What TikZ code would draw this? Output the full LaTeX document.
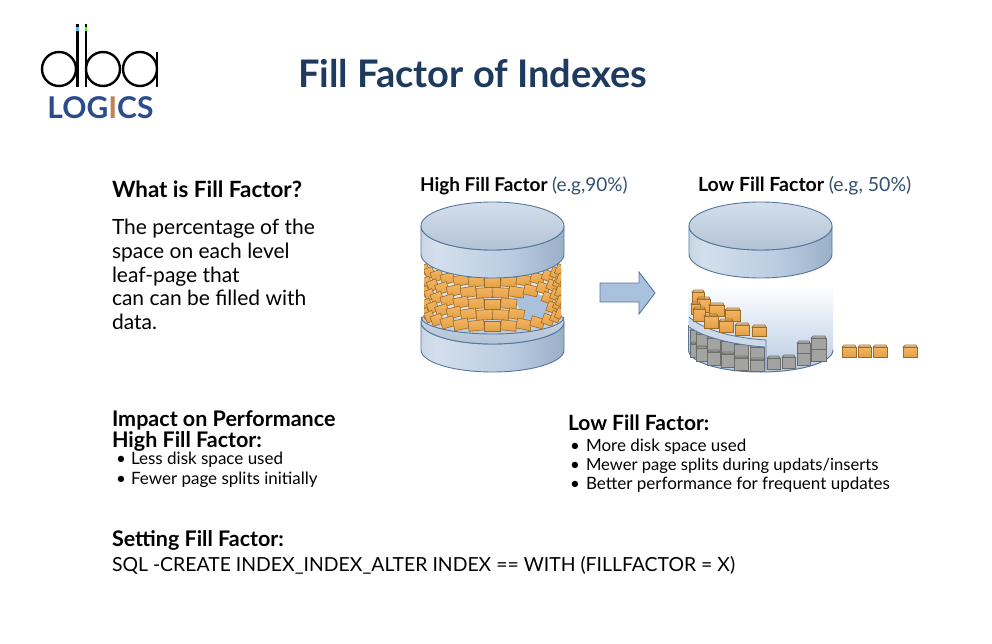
\documentclass[tikz,border=0pt]{standalone}
\usepackage{fontspec}
\setmainfont{Lato}
\definecolor{titlenavy}{HTML}{1F3A5F}
\definecolor{notenavy}{HTML}{34506F}
\definecolor{logoblue}{HTML}{2B4C8C}
\definecolor{logoorange}{HTML}{C08358}
\definecolor{diskline}{HTML}{55779C}
\definecolor{disktop}{HTML}{BCCDE1}
\definecolor{disklip}{HTML}{D3DFEC}
\definecolor{brickfill}{HTML}{F0A848}
\definecolor{brickline}{HTML}{9A6C28}
\definecolor{blockfill}{HTML}{A3A3A1}
\definecolor{blockline}{HTML}{6C6C6A}
\definecolor{holeblue}{HTML}{A9C1DD}
\definecolor{wallback}{HTML}{DDE2E6}
\pgfdeclarehorizontalshading{diskside}{100bp}{color(0bp)=(holeblue!85!black); color(30bp)=(disklip); color(55bp)=(disktop); color(100bp)=(diskline!85)}
\tikzset{
    plaintext/.style={anchor=west, inner sep=0pt, outer sep=0pt, black},
    headtext/.style={plaintext, font=\fontsize{21.5}{24}\selectfont\bfseries},
    bodytext/.style={plaintext, font=\fontsize{17}{20}\selectfont},
    bulletdot/.style={plaintext, font=\fontsize{17}{20}\selectfont},
    sideface/.style={draw=diskline, line width=0.9pt, shading=diskside},
    topface/.style={draw=diskline, line width=0.9pt, top color=disktop!65!white, bottom color=disktop!95!black},
    brickface/.style={draw=brickline, line width=0.6pt, top color=brickfill!85!white, bottom color=brickfill!95!black},
    blockface/.style={draw=blockline, line width=0.6pt, fill=blockfill},
    logoring/.style={draw=black, line width=2.4pt},
}
\newcommand{\drawdisk}[4]{
    \draw[sideface] ({#1-71.5},-#2) -- ({#1-71.5},-#3)
        arc[start angle=180, end angle=360, x radius=71.5, y radius=#4]
        -- ({#1+71.5},-#2)
        arc[start angle=0, end angle=-180, x radius=71.5, y radius=#4] -- cycle;
    \draw[topface] (#1,-#2) ellipse[x radius=71.5, y radius=#4];
}
\newcommand{\drawbrick}[2]{
    \pgfmathsetmacro{\bx}{492.5+67*sin(#1)}
    \pgfmathsetmacro{\by}{#2+14*cos(#1)}
    \pgfmathsetmacro{\bw}{5.5*cos(#1)+2.5}
    \pgfmathsetmacro{\brot}{-24*sin(#1)}
    \pgfmathtruncatemacro{\inhole}{(\bx>511)&&(\bx<546)&&(\by>295)&&(\by<313)}
    \ifnum\inhole=0
        \draw[brickface, shift={(\bx,-\by)}, rotate=\brot] (-\bw,-5) rectangle (\bw,5);
    \fi
}
\newcommand{\drawblock}[5]{
    \draw[#1] (#2,-#3) rectangle ({#2+#4},{-#3-#5});
    \draw[#1, fill opacity=0.55] (#2,-#3) -- ({#2+2},{-#3+2}) -- ({#2+#4-1},{-#3+2}) -- ({#2+#4},-#3) -- cycle;
}
\begin{document}
\begin{tikzpicture}[x=1pt, y=1pt]
    \useasboundingbox (0,-644) rectangle (992,0);

    \draw[logoring] (59,-69) circle (17);
    \draw[logoring] (103,-69) circle (17);
    \draw[logoring] (140,-69) circle (17);
    \draw[logoring] (77.5,-24) -- (77.5,-87);
    \draw[logoring] (86,-24) -- (86,-87);
    \draw[logoring] (157,-52) -- (157,-87);
    \draw[cyan!70!white, line width=2.4pt] (77.5,-27) -- (77.5,-31);
    \draw[green!70!yellow, line width=2.4pt] (86,-27) -- (86,-31);
    \node (logoword) at (100.5,-108) {\fontsize{30}{32}\selectfont\bfseries\color{logoblue}LOG\textcolor{logoorange}{I}CS};

    \node[plaintext, text=titlenavy, font=\fontsize{38}{40}\selectfont\bfseries] (title) at (298,-74) {Fill Factor of Indexes};

    \node[headtext, font=\fontsize{22.4}{24}\selectfont\bfseries] (whatis) at (112,-189) {What is Fill Factor?};
    \node[plaintext, align=left, font=\fontsize{21}{23.7}\selectfont] (whatbody) at (112,-274.5) {The percentage of the\\space on each level\\leaf-page that\\can can be filled with\\data.};

    \node[plaintext, font=\fontsize{19}{22}\selectfont\bfseries] (highhead) at (420,-186) {High Fill Factor \textmd{\textcolor{notenavy}{(e.g,90\%)}}};
    \node[plaintext, font=\fontsize{19.5}{22}\selectfont\bfseries] (lowhead) at (698,-186) {Low Fill Factor \textmd{\textcolor{notenavy}{(e.g, 50\%)}}};

    \drawdisk{492.5}{322}{350}{22}
    \draw[diskline, line width=0.9pt] (421,-317) arc[start angle=180, end angle=360, x radius=71.5, y radius=17];
    \fill[wallback] (425,-262) rectangle (560,-318);
    \fill[holeblue] (513,-297) .. controls (522,-291) and (538,-290) .. (548,-297) -- (550,-318) -- (526,-320) -- cycle;
    \fill[white] (540,-288) -- (547,-290) -- (546,-297) -- (538,-294) -- cycle;
    \begin{scope}
        \clip (424,-255) rectangle (561,-345);
        \foreach \rowy/\skew in {268/0, 279/7, 290/0, 301/7, 312/0}{
            \foreach \step in {-6,...,6}{
                \pgfmathsetmacro{\brickang}{\step*14+\skew}
                \drawbrick{\brickang}{\rowy}
            }
        }
    \end{scope}
    \drawdisk{492.5}{226}{254}{24}

    \fill[holeblue] (600,-283) -- (639,-283) -- (639,-272) -- (655,-293) -- (639,-314) -- (639,-302) -- (600,-302) -- cycle;
    \draw[diskline, line width=0.9pt] (600,-283) -- (639,-283) -- (639,-272) -- (655,-293) -- (639,-314) -- (639,-302) -- (600,-302) -- cycle;

    \shade[top color=white, bottom color=holeblue!85!white] (688.5,-285) -- (833,-285) -- (833,-350)
        arc[start angle=0, end angle=-180, x radius=72.25, y radius=22] -- cycle;
    \draw[diskline, line width=1pt] (688.5,-325) -- (688.5,-350) arc[start angle=180, end angle=360, x radius=72.25, y radius=22];
    \drawdisk{760.5}{226}{254}{24}

    \foreach \bkx/\bky/\bkw/\bkh in {690/330/6/13, 696/334/11/12, 707/338/13/13, 721/341/13/12, 734/344/14/13, 750/347/14/12,
        690/344/6/13, 696/348/11/13, 707/352/13/13, 721/354/13/13, 734/358/14/12, 750/360/14/11,
        767/358/13/11, 782/357/13/11, 797/353/13/12, 811/349/15/12, 797/343/13/10, 811/338/15/11}{
        \drawblock{blockface}{\bkx}{\bky}{\bkw}{\bkh}
    }
    \fill[disklip!80!holeblue] (689,-317) .. controls (705,-331) and (735,-338) .. (766,-340) -- (766,-347) .. controls (735,-345) and (705,-338) .. (689,-327) -- cycle;
    \draw[diskline, line width=0.8pt] (689,-317) .. controls (705,-331) and (735,-338) .. (766,-340) -- (766,-370);
    \draw[diskline, line width=0.8pt] (689,-327) .. controls (705,-338) and (735,-345) .. (765,-347);

    \foreach \bkx/\bky/\bkw/\bkh in {692/292/12/12, 697/299/13/13, 709/305/15/11, 725/310/15/11,
        691/304/9/10, 693/309/12/12, 704/316/14/12, 719/321/14/11, 735/325/14/10, 752/327/14/9,
        842/347/14/10, 858/347/13/10, 873/347/14/10, 903/347/14/10}{
        \drawblock{brickface}{\bkx}{\bky}{\bkw}{\bkh}
    }

    \node[headtext] (impact) at (112,-420) {Impact on Performance};
    \node[headtext] (highfill) at (112,-441) {High Fill Factor:};
    \node[bulletdot] (dota) at (116,-460) {•};
    \node[bodytext] (lessdisk) at (131,-460) {Less disk space used};
    \node[bulletdot] (dotb) at (116,-480) {•};
    \node[bodytext] (fewer) at (131,-480) {Fewer page splits initially};

    \node[headtext, font=\fontsize{21}{24}\selectfont\bfseries] (lowfill) at (568,-423) {Low Fill Factor:};
    \node[bulletdot] (dotc) at (570,-447) {•};
    \node[bodytext] (moredisk) at (586,-447) {More disk space used};
    \node[bulletdot] (dotd) at (570,-466) {•};
    \node[bodytext, font=\fontsize{16.6}{20}\selectfont] (mewer) at (586,-466) {Mewer page splits during updats/inserts};
    \node[bulletdot] (dote) at (570,-485) {•};
    \node[bodytext] (better) at (586,-485) {Better performance for frequent updates};

    \node[headtext] (setting) at (112,-540) {Setting Fill Factor:};
    \node[plaintext, font=\fontsize{19.4}{24}\selectfont] (sqlline) at (112,-565) {SQL -CREATE INDEX\_INDEX\_ALTER INDEX == WITH (FILLFACTOR = X)};
\end{tikzpicture}
\end{document}
